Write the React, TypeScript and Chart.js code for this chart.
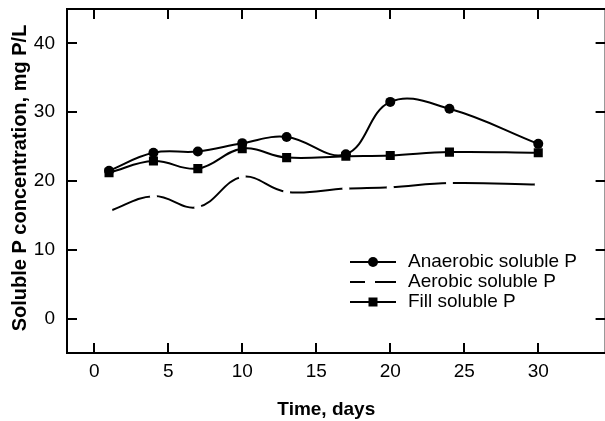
import { useEffect, useRef } from "react";
import { Chart, registerables } from "chart.js";

Chart.register(...registerables);

const days = [1, 4, 7, 10, 13, 17, 20, 24, 30];
const anaerobic = [21.5, 24.1, 24.3, 25.5, 26.4, 23.9, 31.5, 30.5, 25.4];
const aerobic = [15.6, 17.8, 16.2, 20.6, 18.4, 18.9, 19.1, 19.7, 19.5];
const fill = [21.2, 22.9, 21.8, 24.7, 23.4, 23.6, 23.7, 24.2, 24.1];
const seriesLabels = ["Anaerobic soluble P", "Aerobic soluble P", "Fill soluble P"];
const xTickValues = [0, 5, 10, 15, 20, 25, 30];
const yTickValues = [0, 10, 20, 30, 40];
const xTitle = "Time, days";
const yTitle = "Soluble P concentration, mg P/L";

const FONT = "'Liberation Sans', Arial, sans-serif";

const framePlugin = {
  id: "frame",
  afterDraw(chart: any) {
    const { ctx, chartArea: a, scales } = chart;
    ctx.save();
    ctx.strokeStyle = "#000";
    ctx.lineWidth = 2;
    ctx.strokeRect(a.left, a.top, a.right - a.left, a.bottom - a.top);
    ctx.lineWidth = 2;
    const tl = 10;
    ctx.beginPath();
    for (const v of xTickValues) {
      const px = Math.round(scales.x.getPixelForValue(v));
      ctx.moveTo(px, a.bottom);
      ctx.lineTo(px, a.bottom - tl);
      ctx.moveTo(px, a.top);
      ctx.lineTo(px, a.top + tl);
    }
    for (const v of yTickValues) {
      const py = Math.round(scales.y.getPixelForValue(v));
      ctx.moveTo(a.left, py);
      ctx.lineTo(a.left + tl, py);
      ctx.moveTo(a.right, py);
      ctx.lineTo(a.right - tl, py);
    }
    ctx.stroke();

    // axis titles
    ctx.fillStyle = "#000";
    ctx.textAlign = "center";
    ctx.textBaseline = "middle";
    ctx.font = `bold 19px ${FONT}`;
    ctx.fillText(xTitle, (a.left + a.right) / 2 - 10, 410);
    ctx.save();
    ctx.translate(20, (a.top + a.bottom) / 2 - 3);
    ctx.rotate(-Math.PI / 2);
    ctx.font = `bold 20px ${FONT}`;
    ctx.fillText(yTitle, 0, 0);
    ctx.restore();

    // legend
    const lx0 = 350;
    const lx1 = 396;
    const mx = 373;
    const rows = [262, 282, 302];
    ctx.font = `19px ${FONT}`;
    ctx.textAlign = "left";
    chart.data.datasets.forEach((ds: any, i: number) => {
      const y = rows[i];
      ctx.strokeStyle = "#000";
      ctx.lineWidth = 2;
      ctx.beginPath();
      ctx.moveTo(lx0, y);
      ctx.lineTo(lx1, y);
      ctx.stroke();
      if (ds.pointStyle === "circle" && ds.pointBackgroundColor !== "#fff") {
        ctx.fillStyle = "#000";
        ctx.beginPath();
        ctx.arc(mx, y, 5, 0, Math.PI * 2);
        ctx.fill();
      } else if (ds.pointStyle === "rect") {
        ctx.fillStyle = "#000";
        ctx.fillRect(mx - 4.5, y - 4.5, 9, 9);
      } else {
        ctx.fillStyle = "#fff";
        ctx.fillRect(mx - 8, y - 3, 10, 6);
      }
      ctx.fillStyle = "#000";
      ctx.fillText(ds.label, 408, y);
    });
    ctx.restore();
  },
};

export default function App() {
  const ref = useRef<HTMLCanvasElement | null>(null);
  useEffect(() => {
    if (!ref.current) return;
    const mk = (vals: number[]) => days.map((d, i) => ({ x: d, y: vals[i] }));
    const chart = new Chart(ref.current, {
      type: "line",
      data: {
        datasets: [
          {
            label: seriesLabels[0],
            data: mk(anaerobic),
            borderColor: "#000",
            backgroundColor: "#000",
            borderWidth: 2,
            pointStyle: "circle",
            pointRadius: 5,
            pointBackgroundColor: "#000",
            pointBorderWidth: 0,
            tension: 0.4,
          },
          {
            label: seriesLabels[1],
            data: mk(aerobic),
            borderColor: "#000",
            backgroundColor: "#fff",
            borderWidth: 2,
            pointStyle: "circle",
            pointRadius: 3.5,
            pointBackgroundColor: "#fff",
            pointBorderColor: "#fff",
            pointBorderWidth: 0,
            tension: 0.4,
          },
          {
            label: seriesLabels[2],
            data: mk(fill),
            borderColor: "#000",
            backgroundColor: "#000",
            borderWidth: 2,
            pointStyle: "rect",
            pointRadius: 6.4,
            pointBackgroundColor: "#000",
            pointBorderWidth: 0,
            tension: 0.4,
          },
        ],
      } as any,
      options: {
        animation: false,
        responsive: false,
        events: [],
        layout: { padding: { top: 9, right: 5, left: 0, bottom: 0 } },
        plugins: { legend: { display: false }, tooltip: { enabled: false } },
        scales: {
          x: {
            type: "linear",
            min: -1.84,
            max: 34.55,
            afterBuildTicks: (s: any) => {
              s.ticks = xTickValues.map((v) => ({ value: v }));
            },
            afterFit: (s: any) => {
              s.height = 68;
              s.paddingLeft = 0;
              s.paddingRight = 0;
              s.paddingTop = 0;
              s.paddingBottom = 0;
            },
            ticks: {
              font: { family: FONT, size: 19 },
              color: "#000",
              padding: 7,
              autoSkip: false,
              maxRotation: 0,
            },
            grid: { display: false, drawTicks: false },
            border: { display: false },
          },
          y: {
            type: "linear",
            min: -5,
            max: 45,
            afterBuildTicks: (s: any) => {
              s.ticks = yTickValues.map((v) => ({ value: v }));
            },
            afterFit: (s: any) => {
              s.width = 67;
              s.paddingLeft = 0;
              s.paddingRight = 0;
              s.paddingTop = 0;
              s.paddingBottom = 0;
            },
            ticks: {
              font: { family: FONT, size: 19 },
              color: "#000",
              padding: 12,
              autoSkip: false,
            },
            grid: { display: false, drawTicks: false },
            border: { display: false },
          },
        },
      } as any,
      plugins: [framePlugin],
    });
    return () => chart.destroy();
  }, []);

  return (
    <div
      style={{
        position: "fixed",
        left: 0,
        top: 0,
        width: 605,
        height: 421,
        overflow: "hidden",
        background: "#fff",
      }}
    >
      <canvas ref={ref} width={612} height={421} style={{ display: "block", width: 612, height: 421 }} />
    </div>
  );
}
